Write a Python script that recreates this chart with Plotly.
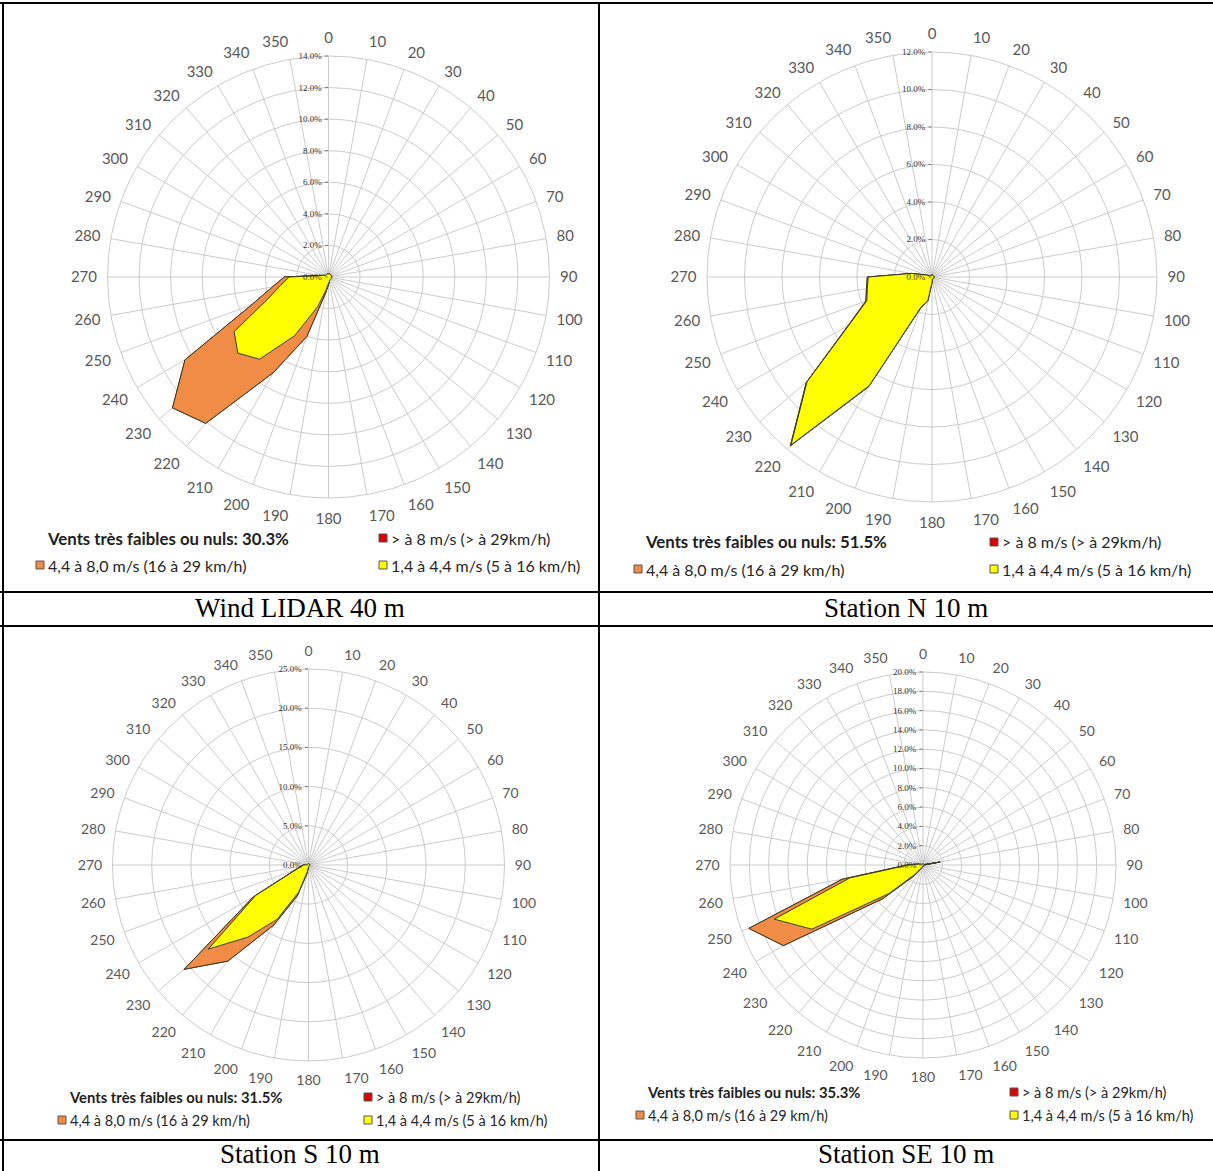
import numpy as np
import plotly.graph_objects as go

W, H = 1213, 1171

directions = list(range(0, 360, 10))
dir_labels = [str(d) for d in directions]

# per-class frequencies (%) for each 10-degree sector, 0..350
lidar_yellow = [0.2,0.2,0.2,0.2,0.2,0.2,0.2,0.2,0.2,0.2,0.2,0.2,0.2,0.2,0.2,0.2,0.2,0.3,
                0.4,0.8,2.0,4.3,6.8,7.5,6.9,4.1,3.1,2.5,0.5,0.3,0.2,0.2,0.2,0.2,0.2,0.2]
lidar_orange = [0,0,0,0,0,0,0,0,0,0,0,0,0,0,0,0,0,0,
                0.1,0.2,2.0,2.7,5.3,5.4,3.6,1.1,0.5,0.3,0.1,0,0,0,0,0,0,0]
lidar_red = [0]*36

n_yellow = [0.1,0.1,0.1,0.1,0.1,0.1,0.1,0.1,0.1,0.1,0.1,0.1,0.1,0.1,0.1,0.1,0.1,0.1,
            0.3,1.3,1.7,6.7,11.7,8.7,5.1,3.7,3.5,3.4,1.1,0.3,0.1,0.1,0.1,0.1,0.1,0.1]
n_orange = [0,0,0,0,0,0,0,0,0,0,0,0,0,0,0,0,0,0,
            0,0,0.05,0.05,0.05,0.05,0.05,0.05,0.05,0.05,0,0,0,0,0,0,0,0]
n_red = [0]*36

s_yellow = [0.15,0.15,0.15,0.15,0.15,0.15,0.15,0.15,0.15,0.15,0.15,0.15,0.15,0.15,0.15,0.15,0.15,0.15,
            0.2,0.9,3.7,8.0,12.0,16.7,7.8,1.6,0.9,0.6,0.3,0.15,0.15,0.15,0.15,0.15,0.15,0.15]
s_orange = [0,0,0,0,0,0,0,0,0,0,0,0,0,0,0,0,0,0,
            0,0.2,0.5,0.8,4.0,4.0,0.3,0.2,0.1,0.1,0,0,0,0,0,0,0,0]
s_red = [0]*36

se_yellow = [0.1,0.1,0.1,0.1,0.1,0.1,0.1,0.1,1.8,0.1,0.1,0.1,0.1,0.1,0.1,0.1,0.1,0.1,
             0.1,0.1,0.2,0.4,1.2,4.6,13.3,16.4,7.7,1.5,0.5,0.2,0.1,0.1,0.1,0.1,0.1,0.1]
se_orange = [0,0,0,0,0,0,0,0,0,0,0,0,0,0,0,0,0,0,
             0,0,0,0.1,0.3,0.8,3.4,2.8,0.8,0.2,0.1,0,0,0,0,0,0,0]
se_red = [0]*36

panels = [
    dict(name="Wind LIDAR 40 m", yellow=lidar_yellow, orange=lidar_orange, red=lidar_red,
         rmax=14, dtick=2, calm="30.3%", cx=328.5, cy=277, r=221, small=False,
         leg_y1=538, leg_y2=565, bx=45, rx=383, capx=300, capy=608),
    dict(name="Station N 10 m", yellow=n_yellow, orange=n_orange, red=n_red,
         rmax=12, dtick=2, calm="51.5%", cx=932, cy=277, r=225, small=False,
         leg_y1=542, leg_y2=569, bx=643, rx=994, capx=906, capy=608),
    dict(name="Station S 10 m", yellow=s_yellow, orange=s_orange, red=s_red,
         rmax=25, dtick=5, calm="31.5%", cx=308.5, cy=865, r=196, small=True,
         leg_y1=1097, leg_y2=1120, bx=67, rx=368, capx=300, capy=1154),
    dict(name="Station SE 10 m", yellow=se_yellow, orange=se_orange, red=se_red,
         rmax=20, dtick=2, calm="35.3%", cx=923, cy=865, r=193, small=True,
         leg_y1=1092, leg_y2=1115, bx=645, rx=1014, capx=906, capy=1154),
]

class_labels = ["> à 8 m/s (> à 29km/h)", "4,4 à 8,0 m/s (16 à 29 km/h)", "1,4 à 4,4 m/s (5 à 16 km/h)"]
c_red, c_orange, c_yellow = "#E00000", "#F08C46", "#FFFF00"
edge = "#3C3C28"
grid = "#CBCBCB"

fig = go.Figure()
shapes = []
annotations = []

def px(x):
    return x / W

def py(y):
    return 1 - y / H

for i, p in enumerate(panels):
    pid = "polar" if i == 0 else f"polar{i+1}"
    y = np.array(p["yellow"])
    o = y + np.array(p["orange"])
    rd = o + np.array(p["red"])
    th = directions + [directions[0]]
    for vals, col in [(rd, c_red), (o, c_orange), (y, c_yellow)]:
        fig.add_trace(go.Scatterpolar(
            r=list(vals) + [vals[0]], theta=th, mode="lines", fill="toself",
            fillcolor=col, line=dict(color=edge, width=1), subplot=pid,
            showlegend=False, hoverinfo="skip"))
    cx, cy, r = p["cx"], p["cy"], p["r"]
    fs = 14 if p["small"] else 15
    fig.update_layout(**{pid: dict(
        domain=dict(x=[px(cx - r), px(cx + r)], y=[py(cy + r), py(cy - r)]),
        bgcolor="white",
        angularaxis=dict(rotation=90, direction="clockwise", tickmode="array",
                         tickvals=directions, ticktext=dir_labels,
                         showgrid=True, gridcolor=grid, gridwidth=1,
                         showline=True, linecolor=grid, linewidth=1,
                         ticks="outside", ticklen=7, tickcolor="rgba(0,0,0,0)",
                         tickfont=dict(family="Lato", size=fs, color="#595959")),
        radialaxis=dict(range=[0, p["rmax"]], dtick=p["dtick"], tick0=0,
                        angle=90, tickangle=90, side="counterclockwise",
                        showgrid=True, gridcolor=grid, gridwidth=1,
                        showline=False, ticks="outside", ticklen=3, tickcolor="#777",
                        tickformat=".1f", ticksuffix="%",
                        tickfont=dict(family="Liberation Serif", size=9, color="#333333")),
    )})
    lfs = 14.5 if p["small"] else 16
    bfs = 14.8 if p["small"] else 16.8
    annotations.append(dict(x=px(p["bx"]), y=py(p["leg_y1"]), xref="paper", yref="paper",
                            xanchor="left", yanchor="middle", showarrow=False,
                            text="<b>Vents très faibles ou nuls: " + p["calm"] + "</b>",
                            font=dict(family="Lato", size=bfs, color="#1E1E1E")))
    sq = 8
    items = [(p["rx"], p["leg_y1"], c_red, class_labels[0]),
             (p["bx"] - 5, p["leg_y2"], c_orange, class_labels[1]),
             (p["rx"], p["leg_y2"], c_yellow, class_labels[2])]
    for sx, sy, col, txt in items:
        shapes.append(dict(type="rect", xref="paper", yref="paper",
                           x0=px(sx - sq / 2), x1=px(sx + sq / 2),
                           y0=py(sy + sq / 2), y1=py(sy - sq / 2),
                           fillcolor=col, line=dict(color="#555555", width=1)))
        annotations.append(dict(x=px(sx + sq / 2 + 2), y=py(sy), xref="paper", yref="paper",
                                xanchor="left", yanchor="middle", showarrow=False, text=txt,
                                font=dict(family="Lato", size=lfs, color="#262626")))
    annotations.append(dict(x=px(p["capx"]), y=py(p["capy"]), xref="paper", yref="paper",
                            xanchor="center", yanchor="middle", showarrow=False, text=p["name"],
                            font=dict(family="Liberation Serif", size=27, color="black")))

# table borders
def hline(yv, x0=0, x1=W):
    shapes.append(dict(type="line", xref="paper", yref="paper", x0=px(x0), x1=px(x1),
                       y0=py(yv), y1=py(yv), line=dict(color="black", width=2)))

def vline(xv, y0=0, y1=H):
    shapes.append(dict(type="line", xref="paper", yref="paper", x0=px(xv), x1=px(xv),
                       y0=py(y0), y1=py(y1), line=dict(color="black", width=2)))

hline(3)
hline(592)
hline(626)
hline(1140)
vline(3, 3, H)
vline(599, 3, H)

fig.update_layout(width=W, height=H, margin=dict(l=0, r=0, t=0, b=0),
                  paper_bgcolor="white", plot_bgcolor="white",
                  shapes=shapes, annotations=annotations, showlegend=False)

fig.write_html("out.html", config={"displayModeBar": False},
               post_script="document.body.style.margin='0px';document.body.style.padding='0px';")
